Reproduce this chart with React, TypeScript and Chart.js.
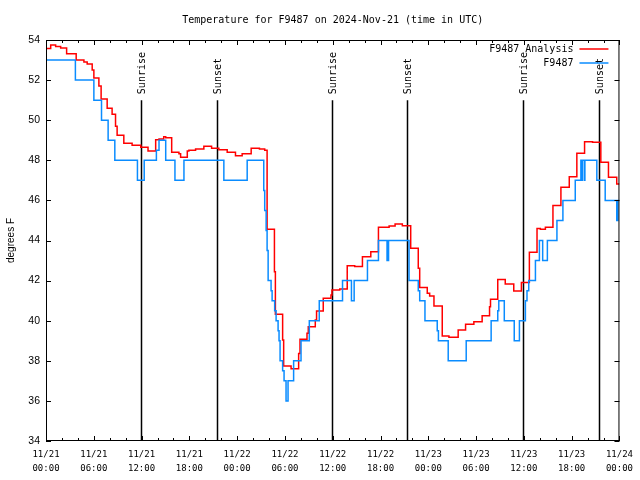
import React, { useEffect, useRef } from "react";
import { Chart, registerables } from "chart.js";

Chart.register(...registerables);

// Hours since 2024-11-21 00:00 UTC
const tickHours = [0, 6, 12, 18, 24, 30, 36, 42, 48, 54, 60, 66, 72];
const tickDates = ["11/21", "11/21", "11/21", "11/21", "11/22", "11/22", "11/22", "11/22", "11/23", "11/23", "11/23", "11/23", "11/24"];
const tickTimes = ["00:00", "06:00", "12:00", "18:00", "00:00", "06:00", "12:00", "18:00", "00:00", "06:00", "12:00", "18:00", "00:00"];

const analysisHours = [
  0, 0.59, 1.21, 1.84, 2.59, 3.79, 4.76, 5.17, 5.8, 6.01, 6.64, 6.92, 7.68, 8.3, 8.73, 8.93, 9.77, 10.81,
  11.9, 12.81, 13.77, 14.19, 14.78, 15.03, 15.78, 16.69, 16.9, 17.74, 17.94, 18.78, 19.82, 20.79, 21.7,
  22.75, 23.79, 24.63, 25.76, 26.8, 27.46, 27.76, 28.68, 28.8, 29.71, 29.84, 30.77, 31.72, 31.89, 32.77,
  32.93, 33.81, 33.97, 34.81, 35.78, 35.9, 36.88, 37.82, 38.76, 39.73, 40.78, 41.74, 43.08, 43.83, 44.74,
  45.79, 46.74, 46.92, 47.87, 48.17, 48.71, 49.75, 50.59, 51.75, 52.68, 53.72, 54.76, 55.69, 55.81, 56.72,
  57.66, 58.73, 59.69, 60.69, 61.65, 62.07, 62.7, 63.65, 64.65, 65.7, 66.65, 67.62, 68.62, 69.66, 70.62,
  71.66, 72,
];
const analysisTemps = [
  53.57, 53.75, 53.68, 53.6, 53.32, 53.0, 52.9, 52.8, 52.5, 52.1, 51.7, 51.06, 50.6, 50.3, 49.7, 49.25, 48.85, 48.75,
  48.65, 48.46, 49.03, 49.06, 49.18, 49.13, 48.4, 48.33, 48.15, 48.46, 48.5, 48.56, 48.7, 48.6, 48.53,
  48.4, 48.23, 48.33, 48.6, 48.56, 48.5, 44.56, 42.44, 40.32, 39.04, 37.74, 37.6, 38.37, 39.07, 39.37,
  39.7, 40.03, 40.48, 41.12, 41.28, 41.53, 41.58, 42.74, 42.7, 43.19, 43.44, 44.66, 44.72, 44.82, 44.74,
  43.61, 42.61, 41.66, 41.37, 41.23, 40.73, 39.24, 39.17, 39.53, 39.82, 39.95, 40.25, 40.7, 41.07, 42.06,
  41.83, 41.48, 41.9, 43.41, 44.6, 44.56, 44.66, 45.74, 46.65, 47.18, 48.35, 48.93, 48.9, 47.9, 47.15,
  46.82, 46.82,
];

const stationHours = [
  0, 3.69, 6.01, 6.97, 7.8, 8.64, 11.48, 12.33, 13.86, 14.19, 15.03, 16.19, 17.32, 22.33, 25.26, 27.34,
  27.46, 27.64, 27.76, 27.89, 28.26, 28.39, 28.71, 28.89, 29.14, 29.26, 29.39, 29.71, 29.89, 30.14, 30.39,
  31.09, 32.02, 33.06, 34.31, 37.23, 38.35, 38.69, 40.36, 41.74, 42.82, 43.01, 45.58, 46.74, 46.92, 47.58,
  49.12, 49.27, 50.5, 52.76, 55.89, 56.72, 56.85, 57.54, 58.79, 59.44, 60.19, 60.39, 60.61, 61.45, 61.95,
  62.36, 62.95, 64.15, 64.9, 66.45, 67.16, 67.25, 67.33, 67.58, 67.66, 69.16, 70.21, 71.66, 71.8, 72,
];
const stationTemps = [
  53, 52, 51, 50, 49, 48, 47, 48, 48.5, 49, 48, 47, 48, 47, 48, 46.5,
  45.5, 44.5, 43.5, 42, 41.5, 41, 40.5, 40, 39.5, 39, 38, 37.5, 37, 36, 37,
  38, 39, 40, 41, 42, 41, 42, 43, 44, 43, 44, 42, 41.5, 41, 40,
  39.5, 39, 38, 39, 40, 40.5, 41, 40, 39, 40, 41, 41.5, 42, 43, 44,
  43, 44, 45, 46, 47, 48, 47, 48, 47, 48, 47, 46, 45, 46, 46,
];

const sunriseHours = [11.92, 35.88, 59.92];
const sunsetHours = [21.5, 45.37, 69.37];

const yMin = 34;
const yMax = 54;
const yStep = 2;
const sunLineTop = 51;

const titleText = "Temperature for F9487 on 2024-Nov-21 (time in UTC)";
const yAxisLabel = "degrees F";
const analysisLabel = "F9487 Analysis";
const stationLabel = "F9487";

const RED = "#ff0000";
const BLUE = "#0a8cff";
const MONO = '"DejaVu Sans Mono", "Liberation Mono", monospace';
const SANS = '"Liberation Sans", Arial, sans-serif';

const decorPlugin = {
  id: "gnuplotDecor",
  beforeDatasetsDraw(chart: any) {
    const { ctx, chartArea, scales } = chart;
    const xs = scales.x;
    const ys = scales.y;
    ctx.save();
    ctx.strokeStyle = "#000";
    ctx.lineWidth = 1.5;
    const yTop = ys.getPixelForValue(sunLineTop);
    const drawSun = (h: number, label: string) => {
      const px = Math.round(xs.getPixelForValue(h)) + 0.5;
      ctx.beginPath();
      ctx.moveTo(px, yTop);
      ctx.lineTo(px, chartArea.bottom);
      ctx.stroke();
      ctx.save();
      ctx.translate(px + 1, yTop - 6);
      ctx.rotate(-Math.PI / 2);
      ctx.font = "10px " + MONO;
      ctx.fillStyle = "#000";
      ctx.textAlign = "left";
      ctx.textBaseline = "middle";
      ctx.fillText(label, 0, 0);
      ctx.restore();
    };
    sunriseHours.forEach((h) => drawSun(h, "Sunrise"));
    sunsetHours.forEach((h) => drawSun(h, "Sunset"));
    ctx.restore();
  },
  afterDraw(chart: any) {
    const { ctx, chartArea, scales } = chart;
    const xs = scales.x;
    const ys = scales.y;
    const { left, right, top, bottom } = chartArea;
    ctx.save();
    ctx.strokeStyle = "#000";
    ctx.lineWidth = 1;
    // border
    ctx.strokeRect(left + 0.5, top + 0.5, right - left - 1, bottom - top - 1);
    // x ticks
    ctx.beginPath();
    for (let h = 0; h <= 72; h += 2) {
      const px = Math.round(xs.getPixelForValue(h)) + 0.5;
      const len = h % 6 === 0 ? 5 : 3;
      ctx.moveTo(px, bottom);
      ctx.lineTo(px, bottom - len);
      ctx.moveTo(px, top);
      ctx.lineTo(px, top + len);
    }
    for (let v = yMin; v <= yMax; v += yStep) {
      const py = Math.round(ys.getPixelForValue(v)) + 0.5;
      ctx.moveTo(left, py);
      ctx.lineTo(left + 5, py);
      ctx.moveTo(right, py);
      ctx.lineTo(right - 5, py);
    }
    ctx.stroke();

    // title
    ctx.fillStyle = "#000";
    ctx.font = "10px " + MONO;
    ctx.textAlign = "center";
    ctx.textBaseline = "middle";
    ctx.fillText(titleText, (left + right) / 2, 20);

    // y label
    ctx.save();
    ctx.translate(11, (top + bottom) / 2);
    ctx.rotate(-Math.PI / 2);
    ctx.font = "10px " + SANS;
    ctx.textAlign = "center";
    ctx.textBaseline = "middle";
    ctx.fillText(yAxisLabel, 0, 0);
    ctx.restore();

    // legend
    ctx.font = "10px " + MONO;
    ctx.textAlign = "right";
    ctx.textBaseline = "middle";
    const lx = right - 46;
    ctx.fillText(analysisLabel, lx, 49);
    ctx.fillText(stationLabel, lx, 63);
    ctx.lineWidth = 1.5;
    ctx.strokeStyle = RED;
    ctx.beginPath();
    ctx.moveTo(lx + 6, 49);
    ctx.lineTo(lx + 35, 49);
    ctx.stroke();
    ctx.strokeStyle = BLUE;
    ctx.beginPath();
    ctx.moveTo(lx + 6, 63);
    ctx.lineTo(lx + 35, 63);
    ctx.stroke();
    ctx.restore();
  },
};

export default function App() {
  const ref = useRef<HTMLCanvasElement | null>(null);
  useEffect(() => {
    document.body.style.margin = "0";
    document.body.style.background = "#fff";
    const canvas = ref.current;
    if (!canvas) return;
    const chart = new Chart(canvas, {
      type: "line",
      data: {
        datasets: [
          {
            label: stationLabel,
            data: stationHours.map((h, i) => ({ x: h, y: stationTemps[i] })),
            borderColor: BLUE,
            borderWidth: 1.5,
            stepped: "before",
            pointRadius: 0,
            fill: false,
          },
          {
            label: analysisLabel,
            data: analysisHours.map((h, i) => ({ x: h, y: analysisTemps[i] })),
            borderColor: RED,
            borderWidth: 1.5,
            stepped: "before",
            pointRadius: 0,
            fill: false,
          },
        ],
      },
      options: {
        animation: false,
        responsive: false,
        layout: { padding: { top: 40, right: 19, left: 0, bottom: 0 } },
        plugins: {
          legend: { display: false },
          title: { display: false },
          tooltip: { enabled: false },
        },
        scales: {
          x: {
            type: "linear",
            min: 0,
            max: 72,
            afterFit: (s: any) => {
              s.height = 39;
            },
            afterBuildTicks: (s: any) => {
              s.ticks = tickHours.map((v) => ({ value: v }));
            },
            grid: { display: false, drawTicks: false },
            border: { display: false },
            ticks: {
              autoSkip: false,
              maxRotation: 0,
              padding: 7,
              color: "#000",
              font: { family: MONO, size: 9, lineHeight: 1.5 },
              callback: (v: any) => {
                const i = tickHours.indexOf(Number(v));
                return i >= 0 ? [tickDates[i], tickTimes[i]] : "";
              },
            },
          },
          y: {
            type: "linear",
            min: yMin,
            max: yMax,
            afterFit: (s: any) => {
              s.width = 46;
            },
            grid: { display: false, drawTicks: false },
            border: { display: false },
            ticks: {
              stepSize: yStep,
              padding: 6,
              color: "#000",
              font: { family: SANS, size: 10.5 },
            },
          },
        },
      },
      plugins: [decorPlugin],
    } as any);
    return () => chart.destroy();
  }, []);
  return (
    <div style={{ width: 640, height: 480, overflow: "hidden", background: "#fff" }}>
      <canvas ref={ref} width={640} height={480} style={{ display: "block" }} />
    </div>
  );
}
